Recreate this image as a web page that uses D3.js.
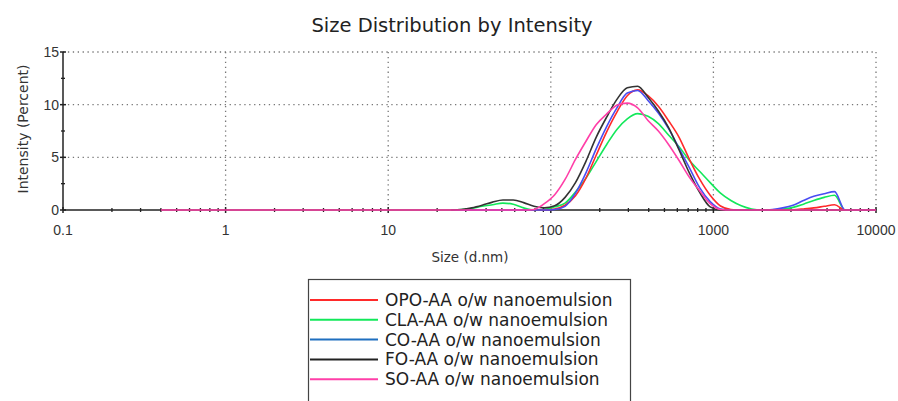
<!DOCTYPE html>
<html>
<head>
<meta charset="utf-8">
<title>Size Distribution by Intensity</title>
<script src="https://cdn.jsdelivr.net/npm/d3@7"></script>
<style>
  body { margin: 0; background: #fff; }
  text { font-family: "Liberation Sans", Arial, sans-serif; }
  .wide { font-family: "DejaVu Sans", "Liberation Sans", sans-serif; }
</style>
</head>
<body>
<script>
// size bins (d.nm)
var sizes = [0.4, 24.36, 28.21, 32.67, 37.84, 43.82, 50.75, 58.77, 68.06, 78.82, 91.28,
  105.7, 122.4, 141.8, 164.2, 190.1, 220.2, 255.0, 295.3, 342.0, 396.1, 458.7, 531.2,
  615.1, 712.4, 825.0, 955.4, 1106, 1281, 1484, 1718, 1990, 2305, 2669, 3091, 3580,
  4145, 4801, 5560, 6439, 7456, 8635, 10000];

var names = ["OPO-AA o/w nanoemulsion", "CLA-AA o/w nanoemulsion", "CO-AA o/w nanoemulsion",
  "FO-AA o/w nanoemulsion", "SO-AA o/w nanoemulsion"];

// intensity (%) per bin, null = not drawn
var opo = [null, 0, 0, 0, 0, 0, 0, 0, 0, 0, 0,
  0.1, 0.45, 1.35, 3.0, 5.2, 7.4, 9.3, 10.85, 11.4, 10.85, 9.85, 8.45,
  6.9, 4.8, 2.9, 1.4, 0.38, 0.05, 0, 0, 0, 0, 0, 0.02, 0.1,
  0.2, 0.35, 0.5, 0, 0, 0, 0];
var cla = [null, 0, 0.05, 0.15, 0.35, 0.5, 0.65, 0.55, 0.2, 0, 0.05,
  0.3, 0.65, 1.7, 3.0, 4.6, 6.2, 7.65, 8.65, 9.15, 8.9, 8.2, 7.1,
  6.0, 4.7, 3.65, 2.6, 1.6, 0.9, 0.4, 0.1, 0, 0, 0.1, 0.25, 0.55,
  0.9, 1.2, 1.4, 0, 0, 0, 0];
var co = [null, 0, 0, 0, 0, 0, 0, 0, 0, 0, 0,
  0.05, 0.35, 1.6, 3.5, 5.8, 7.9, 9.7, 11.1, 11.35, 10.4, 9.2, 7.7,
  5.85, 4.0, 2.1, 0.8, 0.1, 0, 0, 0, 0, 0.05, 0.2, 0.45, 0.9,
  1.3, 1.55, 1.74, 0, 0, 0, 0];
var fo = [null, 0, 0.05, 0.2, 0.45, 0.75, 0.95, 0.95, 0.7, 0.35, 0.2,
  0.4, 1.2, 2.6, 4.6, 6.9, 8.8, 10.5, 11.6, 11.75, 10.7, 9.4, 7.8,
  5.7, 3.5, 1.65, 0.3, 0, 0, 0, 0, 0, 0, 0, 0, 0,
  0, 0, 0, 0, 0, 0, 0];
var so = [0, 0, 0, 0, 0, 0, 0, 0, 0, 0.05, 0.6,
  1.45, 2.9, 4.8, 6.5, 8.1, 9.1, 9.95, 10.15, 9.7, 8.5, 7.5, 6.2,
  4.7, 3.1, 1.8, 0.6, 0.05, 0, 0, 0, 0, 0, 0, 0, 0,
  0, 0, 0, 0, 0, 0, 0];

var seriesValues = [opo, cla, co, fo, so];
var lineColors = ["#ff2a2a", "#12e85a", "#4a4cf2", "#333333", "#ff3fa8"];
var legendColors = ["#ff2a2a", "#12e85a", "#1f6fbf", "#222222", "#ff3fa8"];

var xTicks = [0.1, 1, 10, 100, 1000, 10000];
var yTicks = [0, 5, 10, 15];

var w = 898, h = 401;
var svg = d3.select("body").append("svg")
  .attr("width", w)
  .attr("height", h);

var x = d3.scaleLog().domain([0.1, 10000]).range([63, 876]);
var y = d3.scaleLinear().domain([0, 15]).range([210, 52]);

// title
svg.append("text")
  .attr("class", "wide")
  .attr("x", 452)
  .attr("y", 32)
  .attr("text-anchor", "middle")
  .style("font-size", "19.5px")
  .style("fill", "#222")
  .text("Size Distribution by Intensity");

// dotted grid
var grid = svg.append("g")
  .attr("stroke", "#777")
  .attr("stroke-width", 1.3)
  .attr("stroke-dasharray", "1.3,3.6");
grid.selectAll(".gx")
  .data(xTicks.slice(1))
  .enter()
  .append("line")
  .attr("x1", function(d) { return x(d); })
  .attr("x2", function(d) { return x(d); })
  .attr("y1", y(15))
  .attr("y2", y(0));
grid.selectAll(".gy")
  .data(yTicks.slice(1))
  .enter()
  .append("line")
  .attr("x1", x(0.1))
  .attr("x2", x(10000))
  .attr("y1", function(d) { return y(d); })
  .attr("y2", function(d) { return y(d); });

// x axis with log minor ticks
var minor = [];
for (var p = -1; p < 4; p++) {
  for (var k = 2; k <= 9; k++) minor.push(k * Math.pow(10, p));
}
var xAxis = svg.append("g").attr("transform", "translate(0," + y(0) + ")");
xAxis.append("line")
  .attr("x1", x(0.1)).attr("x2", x(10000))
  .attr("stroke", "#222").attr("stroke-width", 1.5);
xAxis.selectAll(".minor")
  .data(minor)
  .enter()
  .append("line")
  .attr("x1", function(d) { return x(d); })
  .attr("x2", function(d) { return x(d); })
  .attr("y1", -2).attr("y2", 2)
  .attr("stroke", "#222").attr("stroke-width", 1.3);
xAxis.selectAll(".major")
  .data(xTicks)
  .enter()
  .append("line")
  .attr("x1", function(d) { return x(d); })
  .attr("x2", function(d) { return x(d); })
  .attr("y1", -3).attr("y2", 3)
  .attr("stroke", "#222").attr("stroke-width", 1.5);
xAxis.selectAll(".lbl")
  .data(xTicks)
  .enter()
  .append("text")
  .attr("x", function(d) { return x(d); })
  .attr("y", 25)
  .attr("text-anchor", "middle")
  .style("font-size", "14px")
  .style("fill", "#333")
  .text(function(d) { return d; });

// y axis
var yAxis = svg.append("g").attr("transform", "translate(" + x(0.1) + ",0)");
yAxis.append("line")
  .attr("y1", y(0)).attr("y2", y(15))
  .attr("stroke", "#222").attr("stroke-width", 1.5);
yAxis.selectAll(".ymin")
  .data([2.5, 7.5, 12.5])
  .enter()
  .append("line")
  .attr("x1", -2).attr("x2", 2)
  .attr("y1", function(d) { return y(d); })
  .attr("y2", function(d) { return y(d); })
  .attr("stroke", "#222").attr("stroke-width", 1.3);
yAxis.selectAll(".ymaj")
  .data(yTicks)
  .enter()
  .append("line")
  .attr("x1", -3).attr("x2", 3)
  .attr("y1", function(d) { return y(d); })
  .attr("y2", function(d) { return y(d); })
  .attr("stroke", "#222").attr("stroke-width", 1.5);
yAxis.selectAll(".ylbl")
  .data(yTicks)
  .enter()
  .append("text")
  .attr("x", -4)
  .attr("y", function(d) { return y(d) + 5; })
  .attr("text-anchor", "end")
  .style("font-size", "14px")
  .style("fill", "#333")
  .text(function(d) { return d; });

// axis titles
svg.append("text")
  .attr("class", "wide")
  .attr("transform", "translate(28,129) rotate(-90)")
  .attr("text-anchor", "middle")
  .style("font-size", "14px")
  .style("fill", "#333")
  .text("Intensity (Percent)");
svg.append("text")
  .attr("class", "wide")
  .attr("x", 470)
  .attr("y", 262)
  .attr("text-anchor", "middle")
  .style("font-size", "13.5px")
  .style("fill", "#333")
  .text("Size (d.nm)");

// curves
var line = d3.line()
  .defined(function(d) { return d[1] !== null; })
  .x(function(d) { return x(d[0]); })
  .y(function(d) { return y(d[1]); })
  .curve(d3.curveMonotoneX);

var drawOrder = [1, 0, 2, 3, 4];
drawOrder.forEach(function(i) {
  var pts = sizes.map(function(s, j) { return [s, seriesValues[i][j]]; });
  svg.append("path")
    .datum(pts)
    .attr("d", line)
    .attr("fill", "none")
    .attr("stroke", lineColors[i])
    .attr("stroke-width", 1.6);
});

// legend
var legend = svg.append("g");
legend.append("rect")
  .attr("x", 308.5).attr("y", 279.5)
  .attr("width", 322).attr("height", 140)
  .attr("fill", "none")
  .attr("stroke", "#444").attr("stroke-width", 1.2);
var rows = legend.selectAll(".row")
  .data(names)
  .enter()
  .append("g")
  .attr("transform", function(d, i) { return "translate(0," + (300 + i * 19.8) + ")"; });
rows.append("line")
  .attr("x1", 310).attr("x2", 378)
  .attr("stroke", function(d, i) { return legendColors[i]; })
  .attr("stroke-width", 2);
rows.append("text")
  .attr("class", "wide")
  .attr("x", 385)
  .attr("y", 6)
  .style("font-size", "17px")
  .style("fill", "#222")
  .text(function(d) { return d; });
</script>
</body>
</html>
